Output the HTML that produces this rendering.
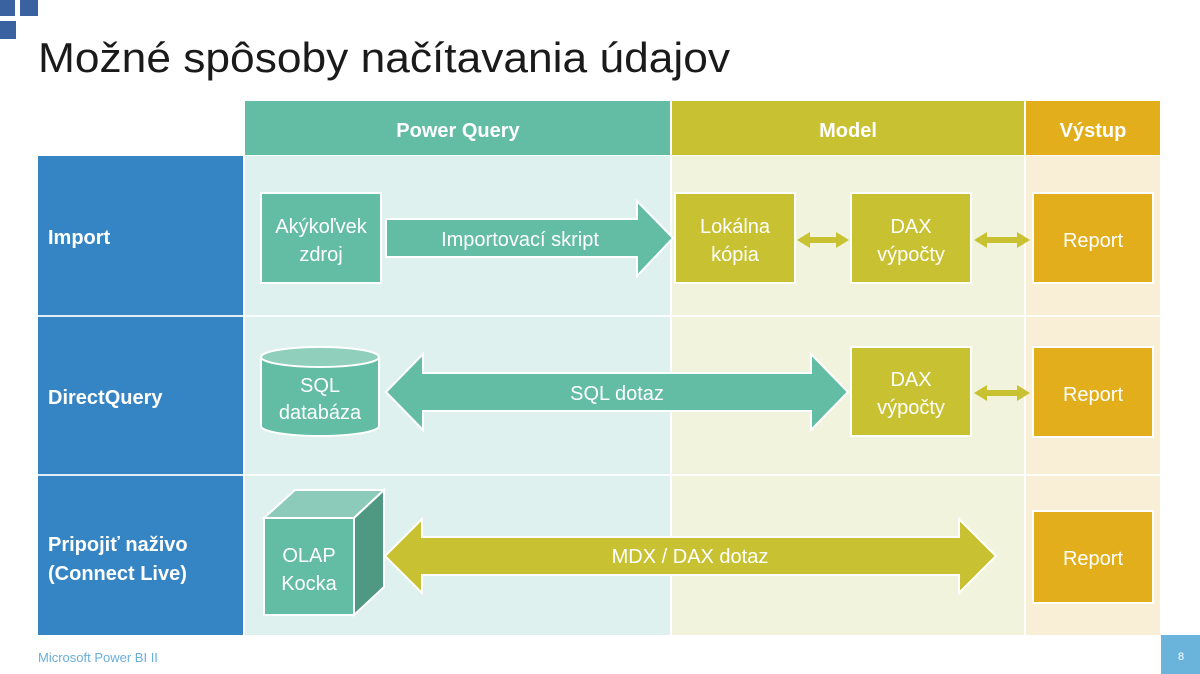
<!DOCTYPE html>
<html><head><meta charset="utf-8"><style>
html,body{margin:0;padding:0;background:#fff;}
svg{display:block;}
text{font-family:"Liberation Sans",sans-serif;}
</style></head><body>
<svg width="1200" height="674" viewBox="0 0 1200 674" xmlns="http://www.w3.org/2000/svg">
<rect x="0" y="0" width="1200" height="674" fill="#ffffff"/>
<!-- logo squares -->
<rect x="0" y="0" width="15" height="16" fill="#3a62a0"/>
<rect x="20" y="0" width="18" height="16" fill="#3a62a0"/>
<rect x="0" y="21" width="16" height="18" fill="#3a62a0"/>
<!-- title -->
<text x="38" y="72" font-size="42" fill="#1a1a1a" textLength="692" lengthAdjust="spacingAndGlyphs">Možné spôsoby načítavania údajov</text>

<!-- headers -->
<rect x="245" y="101" width="425" height="54" fill="#63bca4"/>
<rect x="672" y="101" width="352" height="54" fill="#c8c232"/>
<rect x="1026" y="101" width="134" height="54" fill="#e2ae1c"/>
<text x="458" y="137" font-size="20" font-weight="bold" fill="#fff" text-anchor="middle">Power Query</text>
<text x="848" y="137" font-size="20" font-weight="bold" fill="#fff" text-anchor="middle">Model</text>
<text x="1093" y="137" font-size="20" font-weight="bold" fill="#fff" text-anchor="middle">Výstup</text>

<!-- body backgrounds -->
<rect x="38" y="156" width="205" height="479" fill="#3585c4"/>
<rect x="245" y="156" width="425" height="479" fill="#dff1ee"/>
<rect x="672" y="156" width="352" height="479" fill="#f2f3dc"/>
<rect x="1026" y="156" width="134" height="479" fill="#f9efd6"/>
<!-- row separators -->
<rect x="38" y="315" width="1122" height="2" fill="#ffffff" opacity="0.85"/>
<rect x="38" y="474" width="1122" height="2" fill="#ffffff" opacity="0.85"/>
<!-- column separators (behind shapes) -->
<rect x="670" y="101" width="2" height="534" fill="#ffffff" opacity="0.9"/>
<rect x="1024" y="101" width="2" height="534" fill="#ffffff" opacity="0.9"/>
<rect x="243" y="156" width="2" height="479" fill="#ffffff" opacity="0.9"/>

<!-- row labels -->
<text x="48" y="244" font-size="20" font-weight="bold" fill="#fff">Import</text>
<text x="48" y="404" font-size="20" font-weight="bold" fill="#fff">DirectQuery</text>
<text x="48" y="551" font-size="20" font-weight="bold" fill="#fff">Pripojiť naživo</text>
<text x="48" y="580" font-size="20" font-weight="bold" fill="#fff">(Connect Live)</text>

<!-- ROW 1 -->
<rect x="261" y="193" width="120" height="90" fill="#63bca4" stroke="#fff" stroke-width="2"/>
<text x="321" y="233" font-size="20" fill="#fff" text-anchor="middle">Akýkoľvek</text>
<text x="321" y="261" font-size="20" fill="#fff" text-anchor="middle">zdroj</text>
<polygon points="386,219 637,219 637,201 673,238 637,276 637,257 386,257" fill="#63bca4" stroke="#fff" stroke-width="2"/>
<text x="520" y="246" font-size="20" fill="#fff" text-anchor="middle">Importovací skript</text>
<rect x="675" y="193" width="120" height="90" fill="#c8c232" stroke="#fff" stroke-width="2"/>
<text x="735" y="233" font-size="20" fill="#fff" text-anchor="middle">Lokálna</text>
<text x="735" y="261" font-size="20" fill="#fff" text-anchor="middle">kópia</text>
<polygon points="797,240 810,232 810,237 836,237 836,232 849,240 836,248 836,243 810,243 810,248" fill="#c8c232"/>
<rect x="851" y="193" width="120" height="90" fill="#c8c232" stroke="#fff" stroke-width="2"/>
<text x="911" y="233" font-size="20" fill="#fff" text-anchor="middle">DAX</text>
<text x="911" y="261" font-size="20" fill="#fff" text-anchor="middle">výpočty</text>
<polygon points="974,240 987,232 987,237 1017,237 1017,232 1030,240 1017,248 1017,243 987,243 987,248" fill="#c8c232"/>
<rect x="1033" y="193" width="120" height="90" fill="#e2ae1c" stroke="#fff" stroke-width="2"/>
<text x="1093" y="247" font-size="20" fill="#fff" text-anchor="middle">Report</text>

<!-- ROW 2 -->
<path d="M261,357 L261,426 A59,10 0 0 0 379,426 L379,357 A59,10 0 0 0 261,357 Z" fill="#63bca4" stroke="#fff" stroke-width="2"/>
<ellipse cx="320" cy="357" rx="59" ry="10" fill="#90cfbc" stroke="#fff" stroke-width="2"/>
<text x="320" y="392" font-size="20" fill="#fff" text-anchor="middle">SQL</text>
<text x="320" y="419" font-size="20" fill="#fff" text-anchor="middle">databáza</text>
<polygon points="386,392 423,354 423,373 811,373 811,354 848,392 811,430 811,411 423,411 423,430" fill="#63bca4" stroke="#fff" stroke-width="2"/>
<text x="617" y="400" font-size="20" fill="#fff" text-anchor="middle">SQL dotaz</text>
<rect x="851" y="347" width="120" height="89" fill="#c8c232" stroke="#fff" stroke-width="2"/>
<text x="911" y="386" font-size="20" fill="#fff" text-anchor="middle">DAX</text>
<text x="911" y="414" font-size="20" fill="#fff" text-anchor="middle">výpočty</text>
<polygon points="974,393 987,385 987,390 1017,390 1017,385 1030,393 1017,401 1017,396 987,396 987,401" fill="#c8c232"/>
<rect x="1033" y="347" width="120" height="90" fill="#e2ae1c" stroke="#fff" stroke-width="2"/>
<text x="1093" y="401" font-size="20" fill="#fff" text-anchor="middle">Report</text>

<!-- ROW 3 -->
<polygon points="264,518 295,490 384,490 354,518" fill="#8ccbba" stroke="#fff" stroke-width="2"/>
<polygon points="354,518 384,490 384,587 354,615" fill="#4f9982" stroke="#fff" stroke-width="2"/>
<rect x="264" y="518" width="90" height="97" fill="#63bca4" stroke="#fff" stroke-width="2"/>
<text x="309" y="562" font-size="20" fill="#fff" text-anchor="middle">OLAP</text>
<text x="309" y="590" font-size="20" fill="#fff" text-anchor="middle">Kocka</text>
<polygon points="385,556 422,519 422,537 959,537 959,519 996,556 959,593 959,575 422,575 422,593" fill="#c8c232" stroke="#fff" stroke-width="2"/>
<text x="690" y="563" font-size="20" fill="#fff" text-anchor="middle">MDX / DAX dotaz</text>
<rect x="1033" y="511" width="120" height="92" fill="#e2ae1c" stroke="#fff" stroke-width="2"/>
<text x="1093" y="565" font-size="20" fill="#fff" text-anchor="middle">Report</text>

<!-- footer -->
<text x="38" y="662" font-size="13" fill="#6aaedb">Microsoft Power BI II</text>
<rect x="1161" y="635" width="39" height="39" fill="#6ab4dc"/>
<text x="1181" y="660" font-size="11" fill="#fff" text-anchor="middle">8</text>
</svg>
</body></html>
